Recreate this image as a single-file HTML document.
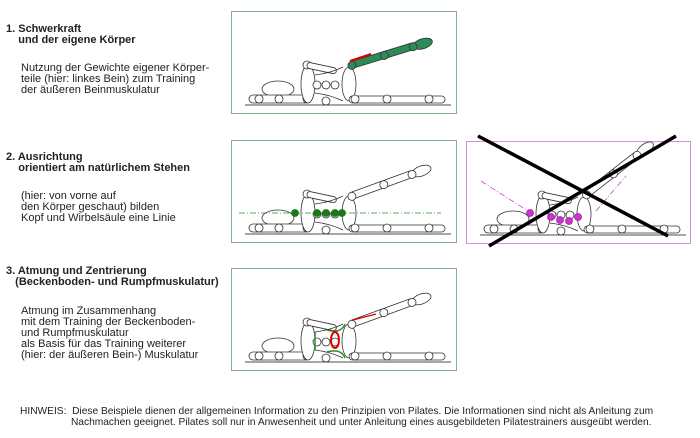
<!DOCTYPE html>
<html><head><meta charset="utf-8"><style>
body{margin:0;width:700px;height:438px;background:#fff;font-family:"Liberation Sans",sans-serif;font-size:11px;color:#222;position:relative;overflow:hidden}
.t{position:absolute;line-height:11px;white-space:nowrap}
b{font-weight:bold}
</style></head><body>
<div class="t" style="left:6px;top:24px"><b>1. Schwerkraft<br>&nbsp;&nbsp;&nbsp;&nbsp;und der eigene Körper</b></div>
<div class="t" style="left:21px;top:63px">Nutzung der Gewichte eigener Körper-<br>teile (hier: linkes Bein) zum Training<br>der äußeren Beinmuskulatur</div>
<div class="t" style="left:6px;top:152px"><b>2. Ausrichtung<br>&nbsp;&nbsp;&nbsp;&nbsp;orientiert am natürlichem Stehen</b></div>
<div class="t" style="left:21px;top:191px">(hier: von vorne auf<br>den Körper geschaut) bilden<br>Kopf und Wirbelsäule eine Linie</div>
<div class="t" style="left:6px;top:266px"><b>3. Atmung und Zentrierung<br>&nbsp;&nbsp;&nbsp;(Beckenboden- und Rumpfmuskulatur)</b></div>
<div class="t" style="left:21px;top:306px">Atmung im Zusammenhang<br>mit dem Training der Beckenboden-<br>und Rumpfmuskulatur<br>als Basis für das Training weiterer<br>(hier: der äußeren Bein-) Muskulatur</div>
<div class="t" style="left:20px;top:406px;font-size:10.2px">HINWEIS:&nbsp; Diese Beispiele dienen der allgemeinen Information zu den Prinzipien von Pilates. Die Informationen sind nicht als Anleitung zum<br>&nbsp;&nbsp;&nbsp;&nbsp;&nbsp;&nbsp;&nbsp;&nbsp;&nbsp;&nbsp;&nbsp;&nbsp;&nbsp;&nbsp;&nbsp;&nbsp;&nbsp;&nbsp;Nachmachen geeignet. Pilates soll nur in Anwesenheit und unter Anleitung eines ausgebildeten Pilatestrainers ausgeübt werden.</div>
<svg width="700" height="438" style="position:absolute;left:0;top:0" fill="none" stroke="#333" stroke-width="0.8">
<defs>
<g id="fig">
<line x1="14" y1="94" x2="220" y2="94" stroke="#111"/>
<ellipse cx="47" cy="78" rx="16" ry="8" fill="#fff"/>
<rect x="18" y="84" width="60" height="8" rx="4" fill="#fff"/>
<circle cx="28" cy="88" r="4" fill="#fff"/><circle cx="48" cy="88" r="4" fill="#fff"/><circle cx="76" cy="88" r="4" fill="#fff"/>
<ellipse cx="77" cy="73" rx="7" ry="19" fill="#fff"/>
<circle cx="76" cy="54" r="4" fill="#fff"/>
<rect x="76" y="51" width="30" height="6" rx="3" fill="#fff" transform="rotate(12 76 54)"/>
<circle cx="86" cy="74" r="4" fill="#fff"/><circle cx="95" cy="74" r="4" fill="#fff"/><circle cx="104" cy="74" r="4" fill="#fff"/>
<ellipse cx="118" cy="73" rx="7" ry="17" fill="#fff"/>
<circle cx="95" cy="90" r="4" fill="#fff"/>
<path d="M84 64 Q100 62 112 56 M84 82 Q100 84 112 90"/>
<rect x="118" y="85" width="96" height="7" rx="3.5" fill="#fff"/>
<circle cx="124" cy="88" r="4" fill="#fff"/><circle cx="156" cy="88" r="4" fill="#fff"/><circle cx="198" cy="88" r="4" fill="#fff"/>
</g>
<g id="leg"><rect x="0" y="-4" width="68" height="7" rx="3.5" fill="#fff"/><ellipse cx="76" cy="0" rx="10" ry="5" fill="#fff"/><circle cx="2" cy="0" r="4" fill="#fff"/><circle cx="36" cy="0" r="4" fill="#fff"/><circle cx="66" cy="0" r="4" fill="#fff"/></g>
</defs>
<rect x="231.5" y="11.5" width="225" height="102" stroke="#6a9f6a"/>
<rect x="231.5" y="140.5" width="225" height="102" stroke="#6a9f6a"/>
<rect x="231.5" y="268.5" width="225" height="102" stroke="#6a9f6a"/>
<rect x="466.5" y="141.5" width="224" height="102" stroke="#d070d0"/>
<g transform="translate(231,11)"><use href="#fig"/>
<g transform="translate(119,55) rotate(-17)"><rect x="0" y="-4" width="68" height="7" rx="3.5" fill="#2e8b57"/><ellipse cx="76" cy="0" rx="10" ry="5" fill="#2e8b57"/><circle cx="2" cy="0" r="4" fill="#2e8b57"/><circle cx="36" cy="0" r="4" fill="#2e8b57"/><circle cx="66" cy="0" r="4" fill="#2e8b57"/></g>
<path d="M119 50 L140 43" stroke="#d00" stroke-width="2"/>
</g>
<g transform="translate(231,140)"><use href="#fig"/>
<g transform="translate(119,57) rotate(-20)"><use href="#leg"/></g>
<line x1="8" y1="73" x2="210" y2="73" stroke="#2a8a2a" stroke-dasharray="6,2,1,2"/>
<g fill="#1a7a1a" stroke="#1a7a1a"><circle cx="64" cy="73" r="3.5"/><circle cx="86" cy="73" r="3.5"/><circle cx="95" cy="73" r="3.5"/><circle cx="104" cy="73" r="3.5"/><circle cx="111" cy="73" r="3.5"/></g>
</g>
<g transform="translate(231,268)"><use href="#fig"/>
<g transform="translate(119,57) rotate(-20)"><use href="#leg"/></g>
<path d="M122 52 L145 46" stroke="#d00" stroke-width="1.2"/>
<path d="M96 62 Q110 66 114 56 M96 84 Q110 80 114 90" stroke="#2a8a2a" stroke-width="1.5"/>
<ellipse cx="104" cy="72" rx="4" ry="8" stroke="#d00" stroke-width="2"/>
<path d="M84 64 L84 82" stroke="#2a8a2a" stroke-width="1.5"/>
</g>
<g transform="translate(466,141)"><use href="#fig"/>
<g transform="translate(119,55) rotate(-38)"><use href="#leg"/></g>
<path d="M15 40 L65 72 M130 70 L160 35" stroke="#d040d0" stroke-dasharray="6,2,1,2"/>
<g fill="#cc33cc" stroke="#a020a0"><circle cx="64" cy="72" r="3.5"/><circle cx="85" cy="76" r="3.5"/><circle cx="94" cy="79" r="3.5"/><circle cx="103" cy="80" r="3.5"/><circle cx="112" cy="76" r="3.5"/></g>
</g>
<line x1="478" y1="136" x2="668" y2="236" stroke="#000" stroke-width="3.5"/>
<line x1="489" y1="246" x2="676" y2="136" stroke="#000" stroke-width="3.5"/>
</svg>
</body></html>
